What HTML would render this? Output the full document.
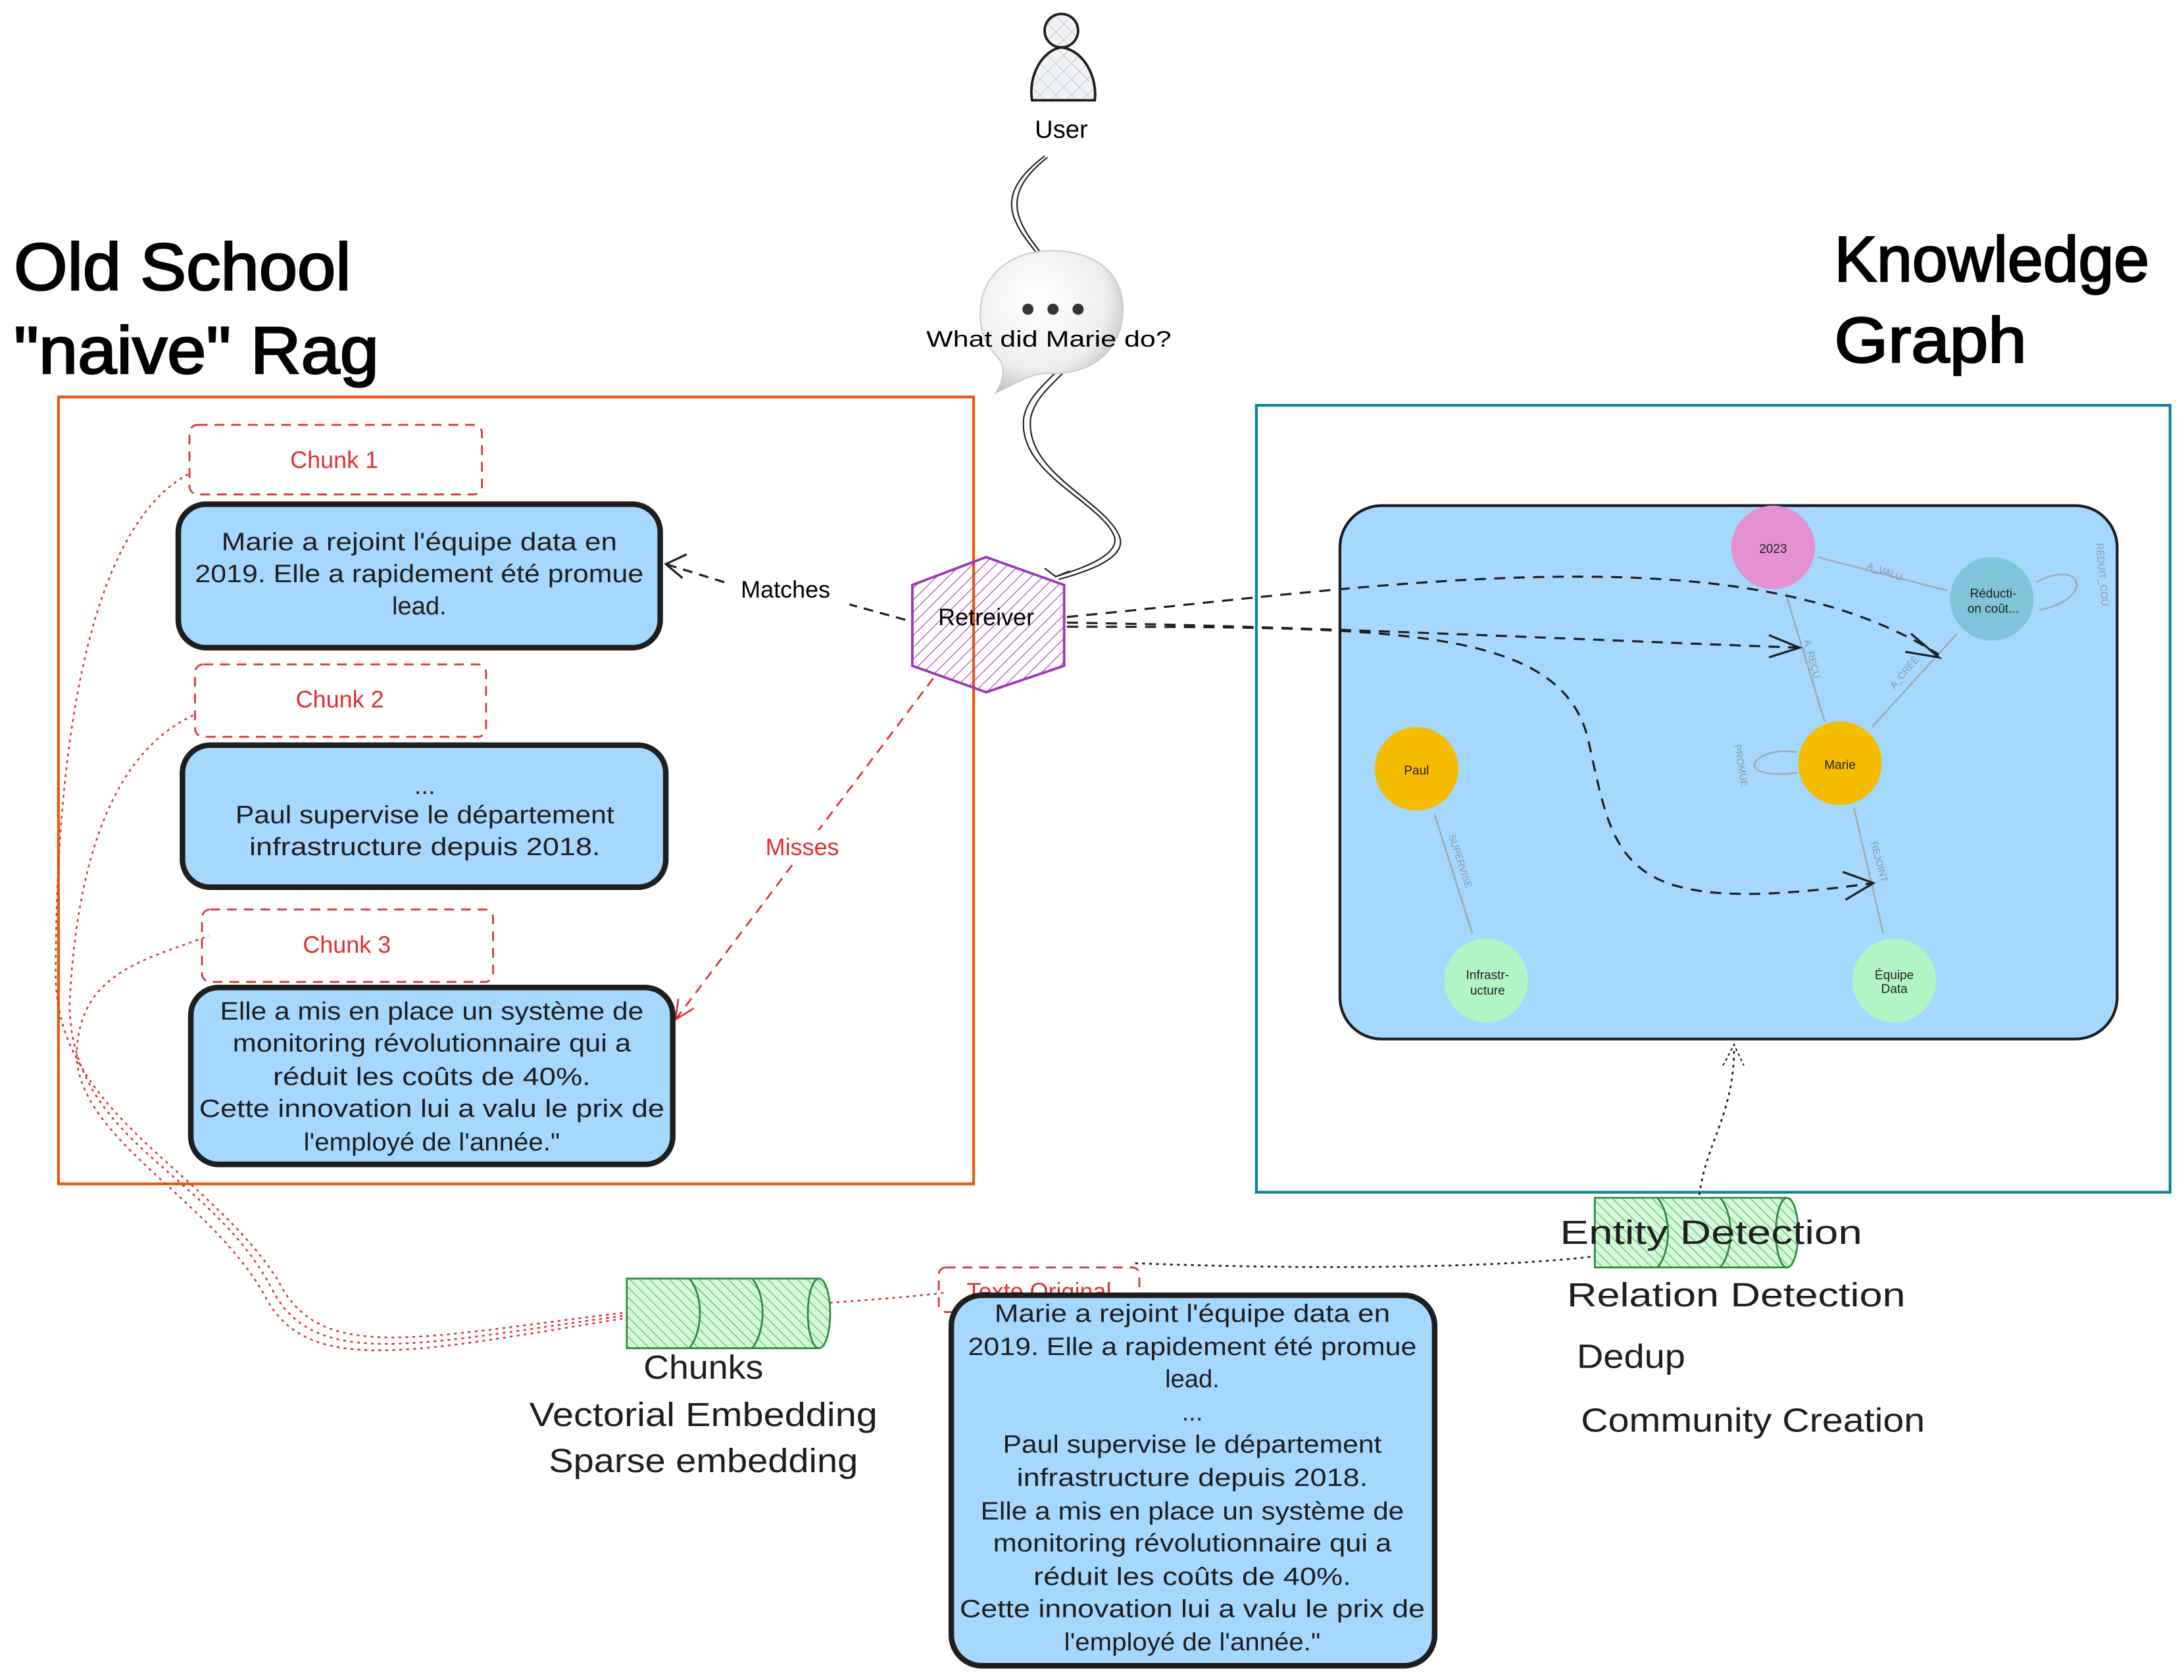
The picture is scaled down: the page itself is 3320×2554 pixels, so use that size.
<!DOCTYPE html>
<html><head><meta charset="utf-8"><style>
html,body{margin:0;padding:0;background:#fff;}
svg{display:block;}
text{font-family:"Liberation Sans",sans-serif;}
</style></head><body>
<svg width="3320" height="2554" viewBox="0 0 1568 1206.2" xmlns="http://www.w3.org/2000/svg">
<defs>
<pattern id="hp" width="6" height="6" patternUnits="userSpaceOnUse" patternTransform="rotate(45)"><line x1="0" y1="0" x2="0" y2="6" stroke="#9c36b5" stroke-width="1"/></pattern>
<pattern id="hg" width="5" height="5" patternUnits="userSpaceOnUse" patternTransform="rotate(-45)"><rect width="5" height="5" fill="#d3f9d8"/><line x1="0" y1="0" x2="0" y2="5" stroke="#2f9e44" stroke-width="0.8"/></pattern>
<pattern id="hx" width="8" height="8" patternUnits="userSpaceOnUse" patternTransform="rotate(45)"><rect width="8" height="8" fill="#f1f3f5"/><line x1="0" y1="0" x2="0" y2="8" stroke="#adb5bd" stroke-width="0.6"/><line x1="0" y1="0" x2="8" y2="0" stroke="#adb5bd" stroke-width="0.6"/></pattern>
<radialGradient id="bub" cx="0.4" cy="0.35" r="0.7"><stop offset="0" stop-color="#fff"/><stop offset="0.7" stop-color="#eee"/><stop offset="1" stop-color="#bbb"/></radialGradient>
</defs>

<!-- titles -->
<g fill="#000" stroke="#000" stroke-width="1.2">
<text x="10" y="208" font-size="48" textLength="242" lengthAdjust="spacingAndGlyphs">Old School</text>
<text x="10" y="268" font-size="48" textLength="262" lengthAdjust="spacingAndGlyphs">"naive" Rag</text>
<text x="1317" y="202" font-size="46" textLength="226" lengthAdjust="spacingAndGlyphs">Knowledge</text>
<text x="1317" y="260" font-size="46" textLength="138" lengthAdjust="spacingAndGlyphs">Graph</text>
</g>

<!-- frames -->
<rect x="42" y="285" width="657" height="565" fill="none" stroke="#e8590c" stroke-width="2"/>
<rect x="902" y="291" width="656" height="565" fill="none" stroke="#0c8599" stroke-width="2"/>

<!-- graph panel -->
<rect x="962" y="363" width="558" height="383" rx="30" fill="#a5d8ff" stroke="#1e1e1e" stroke-width="2"/>
<g stroke="#a0a8b0" stroke-width="1.2" fill="none">
<line x1="1398" y1="424" x2="1305" y2="400"/>
<line x1="1310" y1="518" x2="1282" y2="426"/>
<line x1="1344" y1="522" x2="1405" y2="455"/>
<line x1="1331" y1="580" x2="1352" y2="670"/>
<line x1="1030" y1="585" x2="1057" y2="670"/>
<path d="M1462 418 C1495 400 1505 430 1464 438"/>
<path d="M1290 540 C1260 535 1240 560 1290 555"/>
</g>
<g font-size="7" fill="#8899aa">
<text x="1340" y="408" transform="rotate(20 1340 408)">A_VALU</text>
<text x="1295" y="460" transform="rotate(75 1295 460)">A_REÇU</text>
<text x="1360" y="495" transform="rotate(-50 1360 495)">A_CRÉÉ</text>
<text x="1343" y="605" transform="rotate(75 1343 605)">REJOINT</text>
<text x="1040" y="600" transform="rotate(72 1040 600)">SUPERVISE</text>
<text x="1245" y="535" transform="rotate(80 1245 535)">PROMUE</text>
<text x="1505" y="390" transform="rotate(85 1505 390)">RÉDUIT_COÛ</text>
</g>
<g font-size="9" fill="#222" text-anchor="middle">
<circle cx="1273" cy="393" r="30" fill="#e491d4"/><text x="1273" y="397">2023</text>
<circle cx="1430" cy="430" r="30" fill="#7fc4d9"/><text x="1431" y="429">Réducti-</text><text x="1431" y="440">on coût...</text>
<circle cx="1017" cy="552" r="30" fill="#f5bc00"/><text x="1017" y="556">Paul</text>
<circle cx="1321" cy="548" r="30" fill="#f5bc00"/><text x="1321" y="552">Marie</text>
<circle cx="1067" cy="704" r="30" fill="#b2f5c5"/><text x="1068" y="703">Infrastr-</text><text x="1068" y="714">ucture</text>
<circle cx="1360" cy="704" r="30" fill="#b2f5c5"/><text x="1360" y="703">Équipe</text><text x="1360" y="713">Data</text>
</g>

<!-- retriever arrows to graph -->
<g stroke="#1e1e1e" stroke-width="1.5" fill="none" stroke-dasharray="8 6">
<path d="M766 443 C1000 420 1250 380 1392 470"/>
<path d="M766 447 C950 450 1150 460 1292 465"/>
<path d="M766 450 C1000 450 1120 450 1140 530 C1160 620 1160 660 1345 634"/>
</g>
<g stroke="#1e1e1e" stroke-width="1.5" fill="none">
<path d="M1270 456 L1292 465 L1270 472"/>
<path d="M1372 455 L1392 472 L1368 468"/>
<path d="M1323 626 L1345 634 L1325 646"/>
</g>

<!-- user -->
<circle cx="762" cy="22" r="12" fill="url(#hx)" stroke="#1e1e1e" stroke-width="1.8"/>
<path d="M741 72 C738 55 748 36 762 34 C778 36 788 55 786 72 Z" fill="url(#hx)" stroke="#1e1e1e" stroke-width="1.8"/>
<text x="762" y="99" font-size="18" text-anchor="middle">User</text>

<!-- wavy double line -->
<g stroke="#1e1e1e" stroke-width="1" fill="none">
<path d="M750 112 C700 150 740 170 770 215 C790 260 740 270 735 300 C730 340 790 360 800 385 C805 400 770 410 758 414"/>
<path d="M752 113 C705 150 744 172 774 216 C794 262 746 270 740 300 C735 340 795 360 804 386 C809 402 775 412 760 416"/>
<path d="M750 408 L758 414 L768 410"/>
</g>
<!-- speech bubble -->
<path d="M755 180 C790 180 808 200 806 225 C805 250 785 270 752 268 C740 268 730 275 715 282 C722 270 722 262 715 255 C705 245 703 232 704 222 C705 198 725 180 755 180 Z" fill="url(#bub)" stroke="#ccc" stroke-width="1"/>
<circle cx="738" cy="222" r="4" fill="#333"/><circle cx="756" cy="222" r="4" fill="#333"/><circle cx="774" cy="222" r="4" fill="#333"/>
<text x="753" y="249" font-size="16" text-anchor="middle" textLength="176" lengthAdjust="spacingAndGlyphs">What did Marie do?</text>

<!-- retriever -->
<polygon points="708,400 764,420 764,478 708,497 655,478 655,420" fill="url(#hp)" stroke="#9c36b5" stroke-width="1.8"/>
<text x="708" y="449" font-size="17" text-anchor="middle">Retreiver</text>

<!-- matches -->
<path d="M650 445 L610 434 M520 418 L478 405" stroke="#1e1e1e" stroke-width="1.5" stroke-dasharray="7 5" fill="none"/>
<path d="M493 398 L478 405 L490 415" stroke="#1e1e1e" stroke-width="1.5" fill="none"/>
<text x="564" y="429" font-size="17" text-anchor="middle">Matches</text>
<!-- misses -->
<path d="M670 487 L485 732" stroke="#e03131" stroke-width="1.3" stroke-dasharray="7 5" fill="none"/>
<path d="M487 717 L485 732 L498 724" stroke="#e03131" stroke-width="1.3" fill="none"/>
<rect x="545" y="596" width="62" height="22" fill="#fff"/>
<text x="576" y="614" font-size="17" fill="#e03131" text-anchor="middle">Misses</text>

<!-- chunk labels -->
<g stroke="#e03131" stroke-width="1.3" fill="none" stroke-dasharray="7 5">
<rect x="136" y="305" width="210" height="50" rx="6"/>
<rect x="140" y="477" width="209" height="52" rx="6"/>
<rect x="145" y="653" width="209" height="52" rx="6"/>
<rect x="674" y="910" width="144" height="32" rx="5"/>
</g>
<g font-size="17" fill="#e03131" text-anchor="middle">
<text x="240" y="336">Chunk 1</text>
<text x="244" y="508">Chunk 2</text>
<text x="249" y="684">Chunk 3</text>
<text x="746" y="933">Texte Original</text>
</g>

<!-- red dotted links -->
<g stroke="#e03131" stroke-width="1.2" fill="none" stroke-dasharray="2 3">
<path d="M452 942 C300 960 230 980 200 920 C150 840 40 800 40 700 C40 550 60 380 136 340"/>
<path d="M452 944 C300 965 225 985 195 925 C150 840 50 820 50 720 C55 620 80 540 140 513"/>
<path d="M452 946 C300 970 220 990 190 930 C150 860 60 820 55 760 C55 700 100 690 150 672"/>
<path d="M456 944 C520 940 620 935 680 928"/>
</g>

<!-- blue text boxes -->
<g fill="#a5d8ff" stroke="#1e1e1e" stroke-width="4">
<rect x="128" y="362" width="346" height="103" rx="20"/>
<rect x="131" y="535" width="347" height="102" rx="20"/>
<rect x="137" y="709" width="346" height="127" rx="20"/>
<rect x="683" y="930" width="347" height="266" rx="22"/>
</g>
<g font-size="18" text-anchor="middle" fill="#1e1e1e">
<text x="301" y="395" textLength="284" lengthAdjust="spacingAndGlyphs">Marie a rejoint l'équipe data en</text>
<text x="301" y="418" textLength="322" lengthAdjust="spacingAndGlyphs">2019. Elle a rapidement été promue</text>
<text x="301" y="441">lead.</text>
<text x="305" y="570">...</text>
<text x="305" y="591" textLength="272" lengthAdjust="spacingAndGlyphs">Paul supervise le département</text>
<text x="305" y="614" textLength="252" lengthAdjust="spacingAndGlyphs">infrastructure depuis 2018.</text>
<text x="310" y="732" textLength="304" lengthAdjust="spacingAndGlyphs">Elle a mis en place un système de</text>
<text x="310" y="755" textLength="286" lengthAdjust="spacingAndGlyphs">monitoring révolutionnaire qui a</text>
<text x="310" y="779" textLength="228" lengthAdjust="spacingAndGlyphs">réduit les coûts de 40%.</text>
<text x="310" y="802" textLength="334" lengthAdjust="spacingAndGlyphs">Cette innovation lui a valu le prix de</text>
<text x="310" y="826" textLength="184" lengthAdjust="spacingAndGlyphs">l'employé de l'année."</text>
<text x="856" y="949" textLength="284" lengthAdjust="spacingAndGlyphs">Marie a rejoint l'équipe data en</text>
<text x="856" y="973" textLength="322" lengthAdjust="spacingAndGlyphs">2019. Elle a rapidement été promue</text>
<text x="856" y="996">lead.</text>
<text x="856" y="1020">...</text>
<text x="856" y="1043" textLength="272" lengthAdjust="spacingAndGlyphs">Paul supervise le département</text>
<text x="856" y="1067" textLength="252" lengthAdjust="spacingAndGlyphs">infrastructure depuis 2018.</text>
<text x="856" y="1091" textLength="304" lengthAdjust="spacingAndGlyphs">Elle a mis en place un système de</text>
<text x="856" y="1114" textLength="286" lengthAdjust="spacingAndGlyphs">monitoring révolutionnaire qui a</text>
<text x="856" y="1138" textLength="228" lengthAdjust="spacingAndGlyphs">réduit les coûts de 40%.</text>
<text x="856" y="1161" textLength="334" lengthAdjust="spacingAndGlyphs">Cette innovation lui a valu le prix de</text>
<text x="856" y="1185" textLength="184" lengthAdjust="spacingAndGlyphs">l'employé de l'année."</text>
</g>

<!-- cylinders -->
<g stroke="#2b8a3e" stroke-width="1.3" fill="url(#hg)">
<rect x="450" y="918" width="138" height="50"/>
<ellipse cx="588" cy="943" rx="8" ry="25"/>
<path d="M495 918 C505 930 505 955 495 968 M540 918 C550 930 550 955 540 968" fill="none"/>
<rect x="1145" y="860" width="138" height="50"/>
<ellipse cx="1283" cy="885" rx="8" ry="25"/>
<path d="M1190 860 C1200 872 1200 898 1190 910 M1235 860 C1245 872 1245 898 1235 910" fill="none"/>
</g>
<!-- dotted black links -->
<path d="M815 907 C950 912 1080 910 1145 902" stroke="#1e1e1e" stroke-width="1.3" stroke-dasharray="2 3" fill="none"/>
<path d="M1220 858 C1225 820 1245 800 1245 752" stroke="#1e1e1e" stroke-width="1.3" stroke-dasharray="2 3" fill="none"/>
<path d="M1237 765 L1245 750 L1252 765" stroke="#1e1e1e" stroke-width="1" stroke-dasharray="2 2" fill="none"/>

<g font-size="24" fill="#1e1e1e" lengthAdjust="spacingAndGlyphs">
<text x="505" y="990" text-anchor="middle" textLength="86" lengthAdjust="spacingAndGlyphs">Chunks</text>
<text x="505" y="1024" text-anchor="middle" textLength="250" lengthAdjust="spacingAndGlyphs">Vectorial Embedding</text>
<text x="505" y="1057" text-anchor="middle" textLength="222" lengthAdjust="spacingAndGlyphs">Sparse embedding</text>
<text x="1120" y="893" textLength="217" lengthAdjust="spacingAndGlyphs">Entity Detection</text>
<text x="1125" y="938" textLength="243" lengthAdjust="spacingAndGlyphs">Relation Detection</text>
<text x="1132" y="982" textLength="78" lengthAdjust="spacingAndGlyphs">Dedup</text>
<text x="1135" y="1028" textLength="247" lengthAdjust="spacingAndGlyphs">Community Creation</text>
</g>
</svg>
</body></html>
